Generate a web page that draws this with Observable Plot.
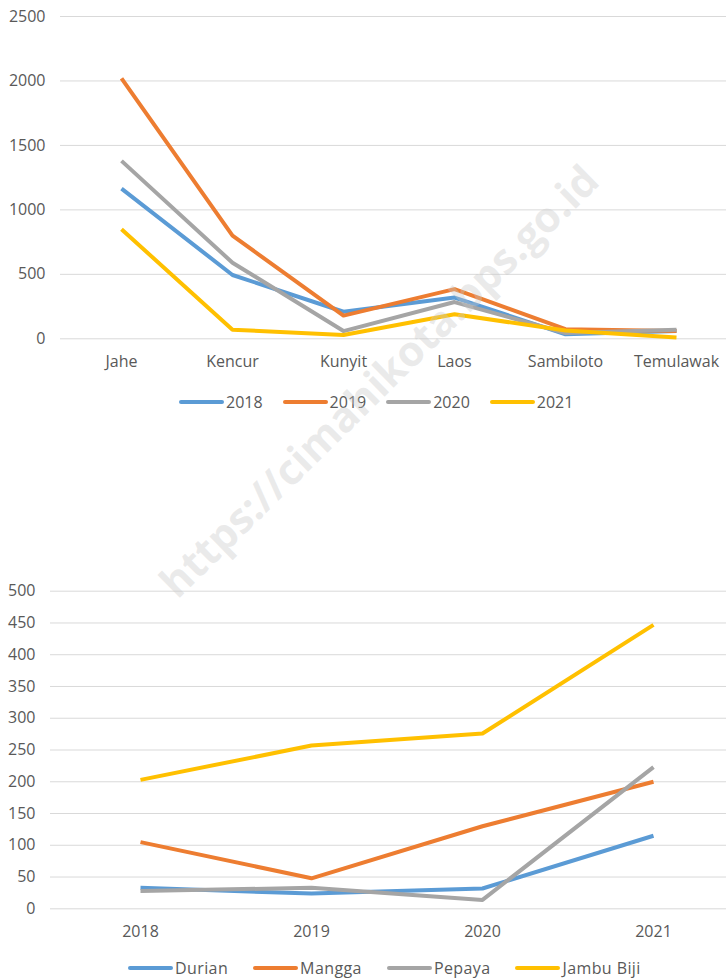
<!DOCTYPE html>
<html>
<head>
<meta charset="utf-8">
<script src="https://cdn.jsdelivr.net/npm/d3@7"></script>
<script src="https://cdn.jsdelivr.net/npm/@observablehq/plot@0.6"></script>
<style>
  html, body { margin: 0; padding: 0; background: #fff; overflow: hidden; }
  #root { position: relative; width: 726px; height: 979px; font-family: "Open Sans", sans-serif; color: #595959; }
  .chart { position: absolute; left: 0; }
  .legend { position: absolute; display: flex; align-items: center; font-size: 16px; color: #595959; gap: 20px; transform: translateY(-50%); }
  .legend .item { display: flex; align-items: center; }
  .legend .sw { width: 45px; height: 4px; border-radius: 2px; margin-right: 2px; }
  #legBottom { gap: 25px; letter-spacing: 0.4px; }
  #wm { position: absolute; left: 378px; top: 380px; transform: translate(-50%, -50%) rotate(-44.5deg); font: bold 42px "Open Sans", sans-serif; color: rgba(200,200,200,0.38); white-space: nowrap; pointer-events: none; }
</style>
</head>
<body>
<div id="root">
  <div id="topChart" class="chart" style="top:0"></div>
  <div id="legTop" class="legend" style="left:179px; top:402px"></div>
  <div id="bottomChart" class="chart" style="top:575px"></div>
  <div id="legBottom" class="legend" style="left:128px; top:968px"></div>
  <div id="wm">https://cimahikota.bps.go.id</div>
</div>
<script>
// Top chart data (herbal plants)
const herbs = ["Jahe", "Kencur", "Kunyit", "Laos", "Sambiloto", "Temulawak"];
const years = ["2018", "2019", "2020", "2021"];
const v2018 = [1165, 495, 210, 320, 35, 60];
const v2019 = [2020, 800, 180, 385, 75, 60];
const v2020 = [1380, 590, 60, 285, 45, 70];
const v2021 = [850, 70, 30, 190, 65, 10];
const herbTicks = [0, 500, 1000, 1500, 2000, 2500];

// Bottom chart data (fruits)
const fruitYears = ["2018", "2019", "2020", "2021"];
const fruits = ["Durian", "Mangga", "Pepaya", "Jambu Biji"];
const durian = [33, 24, 32, 115];
const mangga = [105, 48, 130, 200];
const pepaya = [28, 33, 14, 223];
const jambu = [203, 257, 276, 447];
const fruitTicks = [0, 50, 100, 150, 200, 250, 300, 350, 400, 450, 500];

const colors = ["#5B9BD5", "#ED7D31", "#A5A5A5", "#FFC000"];

const herbSeries = [v2018, v2019, v2020, v2021];
const herbData = years.flatMap((yr, i) => herbs.map((h, j) => ({cat: h, value: herbSeries[i][j], series: yr})));

const fruitSeries = [durian, mangga, pepaya, jambu];
const fruitData = fruits.flatMap((f, i) => fruitYears.map((yr, j) => ({cat: yr, value: fruitSeries[i][j], series: f})));

const baseStyle = {fontFamily: "Open Sans, sans-serif", fontSize: "16px", color: "#595959", background: "transparent", overflow: "visible"};

const topPlot = Plot.plot({
  width: 726, height: 372,
  marginTop: 16, marginBottom: 33.7, marginLeft: 60, marginRight: 0,
  style: baseStyle,
  x: {type: "point", domain: herbs, range: [119, 678], padding: 0},
  y: {domain: [0, 2500], ticks: herbTicks},
  color: {domain: years, range: colors},
  marks: [
    Plot.gridY(herbTicks, {stroke: "#d9d9d9", strokeOpacity: 1, strokeWidth: 1}),
    Plot.axisY(herbTicks, {tickSize: 0, tickPadding: 15, label: null, tickFormat: d => String(d)}),
    Plot.axisX({tickSize: 0, tickPadding: 17, label: null}),
    Plot.line(herbData, {x: "cat", y: "value", z: "series", stroke: "series", strokeWidth: 4, strokeLinejoin: "round", strokeLinecap: "butt"})
  ]
});
document.getElementById("topChart").appendChild(topPlot);

const bottomPlot = Plot.plot({
  width: 726, height: 367.3,
  marginTop: 15.7, marginBottom: 34, marginLeft: 50, marginRight: 0,
  style: baseStyle,
  x: {type: "point", domain: fruitYears, range: [139, 654], padding: 0},
  y: {domain: [0, 500], ticks: fruitTicks},
  color: {domain: fruits, range: colors},
  marks: [
    Plot.gridY(fruitTicks, {stroke: "#d9d9d9", strokeOpacity: 1, strokeWidth: 1}),
    Plot.axisY(fruitTicks, {tickSize: 0, tickPadding: 15, label: null, tickFormat: d => String(d)}),
    Plot.axisX({tickSize: 0, tickPadding: 17, label: null}),
    Plot.line(fruitData, {x: "cat", y: "value", z: "series", stroke: "series", strokeWidth: 4, strokeLinejoin: "round", strokeLinecap: "butt"})
  ]
});
document.getElementById("bottomChart").appendChild(bottomPlot);

function legend(el, names) {
  names.forEach((n, i) => {
    const it = document.createElement("div");
    it.className = "item";
    const sw = document.createElement("div");
    sw.className = "sw";
    sw.style.background = colors[i];
    const t = document.createElement("span");
    t.textContent = n;
    it.appendChild(sw); it.appendChild(t);
    el.appendChild(it);
  });
}
legend(document.getElementById("legTop"), years);
legend(document.getElementById("legBottom"), fruits);
</script>
</body>
</html>
